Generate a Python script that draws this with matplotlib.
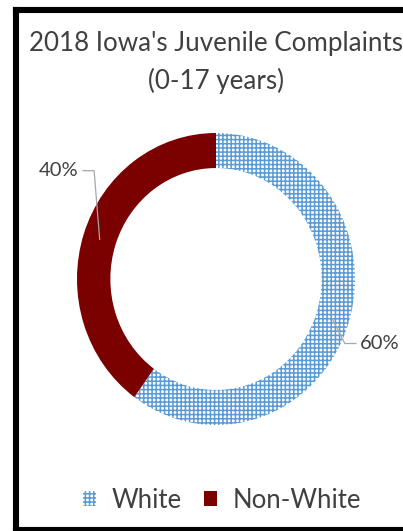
import numpy as np
import matplotlib.pyplot as plt
from matplotlib.patches import Patch
from matplotlib.lines import Line2D

# datos del grafico
categorias = ['White', 'Non-White']
valores = [60, 40]
etiquetas = ['60%', '40%']
colores_borde = ['#5B9BD5', '#7B0000']
colores_relleno = ['white', '#7B0000']

plt.rcParams['font.family'] = ['Lato', 'DejaVu Sans']
plt.rcParams['hatch.linewidth'] = 1.1
texto = '#404040'

W, H = 403, 531
fig = plt.figure(figsize=(W / 100, H / 100), dpi=100)

# marco negro (el lado derecho queda fuera de la imagen)
izq, arr, aba = 15.7 / W, 1 - 10 / H, 1 - 529.5 / H
for xs, ys in [([izq, izq], [aba, arr]), ([izq, 1.2], [arr, arr]), ([izq, 1.2], [aba, aba])]:
    fig.add_artist(Line2D(xs, ys, transform=fig.transFigure, color='black',
                          linewidth=4.4, solid_capstyle='projecting'))

# titulo
fig.text(216 / W, 1 - 43 / H, "2018 Iowa's Juvenile Complaints", ha='center', va='center',
         fontsize=18.7, color=texto)
fig.text(216 / W, 1 - 81 / H, "(0-17 years)", ha='center', va='center',
         fontsize=18.7, color=texto)

# dona
cx, cy, rx, ry = 216, 279, 139, 146
ax = fig.add_axes([(cx - rx) / W, (H - cy - ry) / H, 2 * rx / W, 2 * ry / H])
wedges, _ = ax.pie(valores, startangle=90, counterclock=False, radius=1,
                   wedgeprops=dict(width=0.24, linewidth=0))
for w, fc, ec in zip(wedges, colores_relleno, colores_borde):
    w.set_facecolor(fc)
    w.set_edgecolor(ec)
wedges[0].set_hatch('++++')
ax.set_aspect('auto')
ax.set_xlim(-1, 1)
ax.set_ylim(-1, 1)
ax.axis('off')

# etiquetas con lineas guia
inicio = 90
for w, val, lab in zip(wedges, valores, etiquetas):
    medio = np.deg2rad(inicio - val * 3.6 / 2)
    inicio -= val * 3.6
    px, py = 0.88 * np.cos(medio), 0.88 * np.sin(medio)
    lado = np.sign(px)
    if lado > 0:
        codo = (px + 0.09, py - 0.17)
    else:
        codo = (px - 0.04, py + 0.47)
    fin = (codo[0] + lado * 0.08, codo[1])
    ax.plot([px, codo[0], fin[0]], [py, codo[1], fin[1]], color='#A6A6A6', lw=0.9,
            clip_on=False)
    ax.text(fin[0] + lado * 0.03, fin[1], lab, ha='left' if lado > 0 else 'right',
            va='center', fontsize=14.5, color=texto)

# leyenda
manijas = [Patch(facecolor=colores_relleno[i], edgecolor=colores_borde[i],
                 hatch='++++' if i == 0 else None, linewidth=0, label=categorias[i])
           for i in range(2)]
fig.legend(handles=manijas, loc='center', bbox_to_anchor=(222 / W, 1 - 500 / H),
           ncol=2, frameon=False, fontsize=18.5, handlelength=0.5, handleheight=0.55,
           handletextpad=0.6, columnspacing=0.9, labelcolor=texto)

fig.savefig('out.png', dpi=100)
